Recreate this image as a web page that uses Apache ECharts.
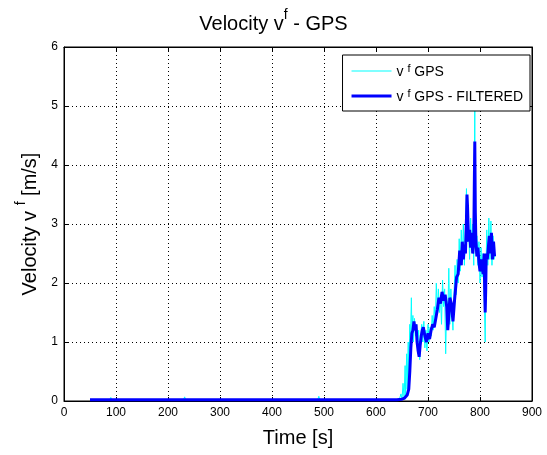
<!DOCTYPE html>
<html>
<head>
<meta charset="utf-8">
<script src="https://cdn.jsdelivr.net/npm/echarts@6/dist/echarts.min.js"></script>
<style>
  html, body { margin: 0; padding: 0; background: #fff; }
  #chart { width: 547px; height: 455px; }
</style>
</head>
<body>
<div id="chart"></div>
<script>
// raw GPS velocity (cyan)
const rawTime = [50, 88, 90, 92, 230, 232, 234, 488, 490, 492, 640, 645, 648, 650, 652, 654, 656, 657, 659, 660, 662, 663, 665, 666, 668, 669, 671, 672, 674, 676, 678, 680, 682, 684, 686, 688, 690, 692, 694, 696, 698, 700, 702, 704, 706, 708, 710, 712, 714, 716, 718, 720, 722, 724, 726, 728, 730, 732, 734, 736, 738, 740, 742, 744, 746, 748, 750, 752, 754, 756, 758, 760, 762, 764, 766, 768, 770, 772, 774, 776, 778, 780, 782, 784, 786, 788, 789, 790, 791, 792, 794, 796, 798, 800, 802, 804, 806, 808, 810, 811, 813, 815, 817, 819, 821, 823, 825, 827, 828]
const rawVel = [0.02, 0.02, 0.06, 0.02, 0.02, 0.07, 0.02, 0.02, 0.08, 0.02, 0.02, 0.03, 0.12, 0.02, 0.3, 0.05, 0.6, 0.1, 0.8, 0.2, 1.0, 0.4, 1.3, 0.9, 1.75, 1.2, 1.45, 1.0, 1.4, 1.1, 1.3, 0.9, 1.2, 0.7, 1.1, 1.3, 1.0, 1.35, 0.9, 1.2, 0.85, 1.3, 1.0, 1.25, 1.1, 1.45, 1.2, 1.6, 1.3, 2.0, 1.5, 1.9, 1.5, 1.8, 1.3, 2.05, 1.6, 1.9, 0.8, 1.7, 1.4, 2.25, 1.3, 1.9, 1.5, 1.2, 1.8, 2.3, 1.8, 2.4, 2.0, 2.75, 2.2, 2.9, 2.4, 3.0, 2.3, 2.9, 3.6, 2.7, 3.0, 2.4, 3.1, 2.6, 3.0, 2.3, 4.0, 5.0, 3.0, 2.5, 2.8, 2.3, 2.7, 2.0, 2.6, 2.1, 2.5, 1.8, 1.0, 2.0, 2.9, 2.3, 3.1, 2.4, 3.05, 2.3, 2.8, 2.4, 2.6]

// filtered GPS velocity (blue)
const filtTime = [50, 640, 650, 655, 660, 663, 665, 667, 669, 671, 673, 675, 677, 679, 681, 683, 685, 687, 689, 691, 694, 697, 700, 703, 706, 709, 712, 715, 718, 721, 724, 727, 730, 733, 736, 738, 740, 742, 745, 748, 751, 753, 755, 758, 761, 764, 766, 768, 770, 772, 774, 775, 776, 778, 780, 782, 784, 786, 788, 789, 790, 791, 792, 794, 796, 798, 800, 802, 804, 806, 808, 809, 810, 811, 812, 814, 816, 818, 820, 822, 824, 826, 828]
const filtVel = [0.02, 0.02, 0.03, 0.05, 0.1, 0.2, 0.5, 0.9, 1.15, 1.2, 1.35, 1.2, 1.3, 1.0, 0.85, 0.75, 0.95, 1.1, 1.2, 1.25, 1.1, 1.0, 1.15, 1.05, 1.2, 1.3, 1.25, 1.4, 1.55, 1.75, 1.65, 1.85, 1.7, 1.8, 1.6, 1.2, 1.45, 1.75, 1.65, 1.35, 1.7, 1.9, 2.1, 2.15, 2.55, 2.3, 2.7, 2.4, 2.65, 2.5, 3.1, 3.5, 3.3, 2.7, 2.9, 2.6, 2.85, 2.5, 2.7, 3.6, 4.4, 3.2, 2.75, 2.45, 2.6, 2.35, 2.2, 2.4, 2.3, 2.15, 2.5, 1.9, 1.5, 1.9, 2.5, 2.4, 2.6, 2.8, 2.5, 2.85, 2.4, 2.7, 2.45]

const xTicks = [0, 900, 100]
const yTicks = [0, 6, 1]

const rawData = rawTime.map((t, i) => [t, rawVel[i]])
const filtData = filtTime.map((t, i) => [t, filtVel[i]])

const font = 'Liberation Sans, Arial, sans-serif'
const dotted = { show: true, lineStyle: { color: '#000', type: [1, 3], width: 1 } }

const myChart = echarts.init(document.getElementById('chart'))

const baseAxis = {
  axisLine: { show: true, onZero: false, lineStyle: { color: '#000', width: 1 } },
  axisTick: { show: true, inside: true, length: 4, lineStyle: { color: '#000' } },
}

// 上标 f 的富文本样式
const supRich = (size, supSize, lh) => ({
  a: { fontFamily: font, fontSize: size, fontWeight: 'normal', color: '#000', verticalAlign: 'bottom', lineHeight: lh },
  s: { fontFamily: font, fontSize: supSize, fontWeight: 'normal', color: '#000', verticalAlign: 'top', lineHeight: lh },
})

const option = {
  animation: false,
  backgroundColor: '#fff',
  title: {
    text: '{a|Velocity v}{s|f}{a| - GPS}',
    left: 'center',
    top: 3,
    textStyle: { fontWeight: 'normal', rich: supRich(20, 14, 26) },
  },
  legend: {
    orient: 'vertical',
    right: 17,
    top: 55,
    padding: [8, 7, 7, 9],
    itemGap: 9,
    itemWidth: 40,
    itemHeight: 12,
    backgroundColor: '#fff',
    borderColor: '#000',
    borderWidth: 1,
    borderRadius: 0,
    formatter: function (name) {
      return name === 'raw' ? '{a|v }{s|f}{a| GPS}' : '{a|v }{s|f}{a| GPS - FILTERED}'
    },
    textStyle: { rich: supRich(14, 11, 16) },
    data: [
      { name: 'raw', icon: 'path://M0,0L40,0L40,1L0,1Z' },
      { name: 'filtered', icon: 'path://M0,0L40,0L40,3L0,3Z' },
    ],
  },
  grid: { left: 64, right: 15, top: 47, bottom: 54, show: true, borderColor: '#000', borderWidth: 1 },
  xAxis: [
    Object.assign({}, baseAxis, {
      type: 'value',
      min: xTicks[0],
      max: xTicks[1],
      interval: xTicks[2],
      name: 'Time [s]',
      nameLocation: 'middle',
      nameGap: 27,
      nameTextStyle: { fontFamily: font, fontSize: 20, color: '#000' },
      axisLabel: { fontFamily: font, fontSize: 12, color: '#000', margin: 6 },
      splitLine: dotted,
    }),
    Object.assign({}, baseAxis, {
      type: 'value',
      position: 'top',
      min: xTicks[0],
      max: xTicks[1],
      interval: xTicks[2],
      axisLabel: { show: false },
      splitLine: { show: false },
    }),
  ],
  yAxis: [
    Object.assign({}, baseAxis, {
      type: 'value',
      min: yTicks[0],
      max: yTicks[1],
      interval: yTicks[2],
      name: '{a|Velocity v }{s|f}{a| [m/s]}',
      nameLocation: 'middle',
      nameGap: 20,
      nameTextStyle: { rich: supRich(20, 14, 26) },
      axisLabel: { fontFamily: font, fontSize: 12, color: '#000', margin: 6 },
      splitLine: dotted,
    }),
    Object.assign({}, baseAxis, {
      type: 'value',
      position: 'right',
      min: yTicks[0],
      max: yTicks[1],
      interval: yTicks[2],
      axisLabel: { show: false },
      splitLine: { show: false },
    }),
  ],
  series: [
    {
      name: 'raw',
      type: 'line',
      data: rawData,
      showSymbol: false,
      color: '#00ffff',
      lineStyle: { color: '#00ffff', width: 1 },
      z: 2,
    },
    {
      name: 'filtered',
      type: 'line',
      data: filtData,
      showSymbol: false,
      color: '#0000ff',
      lineStyle: { color: '#0000ff', width: 3 },
      z: 3,
    },
  ],
}

option && myChart.setOption(option)
</script>
</body>
</html>
